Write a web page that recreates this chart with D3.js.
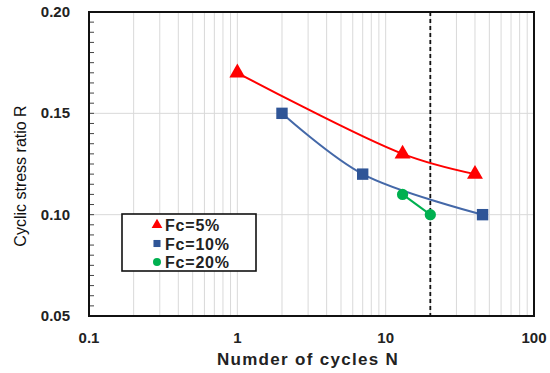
<!DOCTYPE html>
<html lang="en">
<head>
    <meta charset="UTF-8">
    <title>Cyclic stress ratio vs number of cycles</title>
    <script src="https://d3js.org/d3.v7.min.js"></script>
    <style>
        body { margin: 0; background: #fff; }
        svg { display: block; font-family: "Liberation Sans", Arial, sans-serif; }
        .tick-label { font-weight: bold; font-size: 15px; fill: #222; }
        .grid { stroke: #d9d9d9; stroke-width: 1px; }
    </style>
</head>
<body>
<svg id="chart" width="550" height="373"></svg>
<script>
    // Series data: [N, R]
    const seriesNames = ["Fc=5%", "Fc=10%", "Fc=20%"];
    const fc5 = [[1, 0.17], [13, 0.13], [40, 0.12]];
    const fc10 = [[2, 0.15], [7, 0.12], [45, 0.10]];
    const fc20 = [[13, 0.11], [20, 0.10]];
    const xTicks = [0.1, 1, 10, 100];
    const yTicks = [0.05, 0.10, 0.15, 0.20];
    const refLineN = 20;

    const margin = { left: 89, top: 12, right: 16, bottom: 57 };
    const width = 550, height = 373;

    const svg = d3.select("#chart");

    const x = d3.scaleLog().domain([0.1, 100]).range([margin.left, width - margin.right]);
    const y = d3.scaleLinear().domain([0.05, 0.20]).range([height - margin.bottom, margin.top]);

    const [x0, x1] = x.range();
    const [y0, y1] = y.range();

    // vertical gridlines at every log minor step
    const minorX = [];
    for (let d = 0.1; d < 100; d *= 10) {
        for (let k = 1; k <= 9; k++) minorX.push(+(d * k).toPrecision(3));
    }
    svg.append("g").selectAll("line")
        .data(minorX.filter(v => v > 0.1))
        .join("line")
        .attr("class", "grid")
        .attr("x1", d => x(d)).attr("x2", d => x(d))
        .attr("y1", y1).attr("y2", y0);

    // horizontal gridlines
    svg.append("g").selectAll("line")
        .data(yTicks.slice(1, -1))
        .join("line")
        .attr("class", "grid")
        .attr("x1", x0).attr("x2", x1)
        .attr("y1", d => y(d)).attr("y2", d => y(d));

    // minor y ticks (inside)
    svg.append("g").selectAll("line")
        .data(d3.range(0.055, 0.2, 0.005))
        .join("line")
        .attr("x1", x0).attr("x2", x0 + 5)
        .attr("y1", d => y(d)).attr("y2", d => y(d))
        .attr("stroke", "#444").attr("stroke-width", 1);

    // dashed reference line at N = 20
    svg.append("line")
        .attr("x1", x(refLineN)).attr("x2", x(refLineN))
        .attr("y1", y1).attr("y2", y0)
        .attr("stroke", "#111").attr("stroke-width", 1.8)
        .attr("stroke-dasharray", "4,3");

    // plot border
    svg.append("rect")
        .attr("x", x0).attr("y", y1)
        .attr("width", x1 - x0).attr("height", y0 - y1)
        .attr("fill", "none").attr("stroke", "#111").attr("stroke-width", 2);

    // tick labels
    svg.append("g").selectAll("text")
        .data(yTicks)
        .join("text")
        .attr("class", "tick-label")
        .attr("x", 70).attr("y", d => y(d) + 5)
        .attr("text-anchor", "end")
        .text(d => d.toFixed(2));

    svg.append("g").selectAll("text")
        .data(xTicks)
        .join("text")
        .attr("class", "tick-label")
        .attr("x", d => x(d)).attr("y", 343)
        .attr("text-anchor", "middle")
        .text(d => d3.format("~g")(d));

    // axis titles
    svg.append("text")
        .attr("x", 308).attr("y", 365)
        .attr("text-anchor", "middle")
        .attr("font-size", 17).attr("font-weight", "bold")
        .attr("letter-spacing", 1.3)
        .attr("fill", "#222")
        .text("Numder of cycles N");

    svg.append("text")
        .attr("transform", "translate(26,176) rotate(-90)")
        .attr("text-anchor", "middle")
        .attr("font-size", 16)
        .attr("fill", "#111")
        .text("Cyclic stress ratio R");

    const line = d3.line()
        .x(d => x(d[0])).y(d => y(d[1]))
        .curve(d3.curveCatmullRom.alpha(0.5));

    const styles = [
        { data: fc5, color: "#ff0000", line: "#ff0000", shape: d3.symbolTriangle, size: 110 },
        { data: fc10, color: "#2f5597", line: "#4468a8", shape: d3.symbolSquare, size: 130 },
        { data: fc20, color: "#00b050", line: "#00b050", shape: d3.symbolCircle, size: 100 }
    ];

    styles.forEach(s => {
        svg.append("path")
            .datum(s.data)
            .attr("d", line)
            .attr("fill", "none")
            .attr("stroke", s.line)
            .attr("stroke-width", 2);
        svg.append("g").selectAll("path")
            .data(s.data)
            .join("path")
            .attr("transform", d => `translate(${x(d[0])},${y(d[1])})`)
            .attr("d", d3.symbol().type(s.shape).size(s.size))
            .attr("fill", s.color);
    });

    // legend
    const lg = svg.append("g").attr("transform", "translate(122,214)");
    lg.append("rect")
        .attr("width", 134).attr("height", 57)
        .attr("fill", "#fff").attr("stroke", "#111").attr("stroke-width", 1.6);
    seriesNames.forEach((name, i) => {
        const row = lg.append("g").attr("transform", `translate(0,${11 + i * 18.5})`);
        row.append("path")
            .attr("transform", "translate(35,0)")
            .attr("d", d3.symbol().type(styles[i].shape).size(50))
            .attr("fill", styles[i].color);
        row.append("text")
            .attr("x", 43).attr("y", 6)
            .attr("font-size", 16).attr("font-weight", "bold")
            .attr("letter-spacing", 0.8)
            .attr("fill", "#222")
            .text(name);
    });
</script>
</body>
</html>
